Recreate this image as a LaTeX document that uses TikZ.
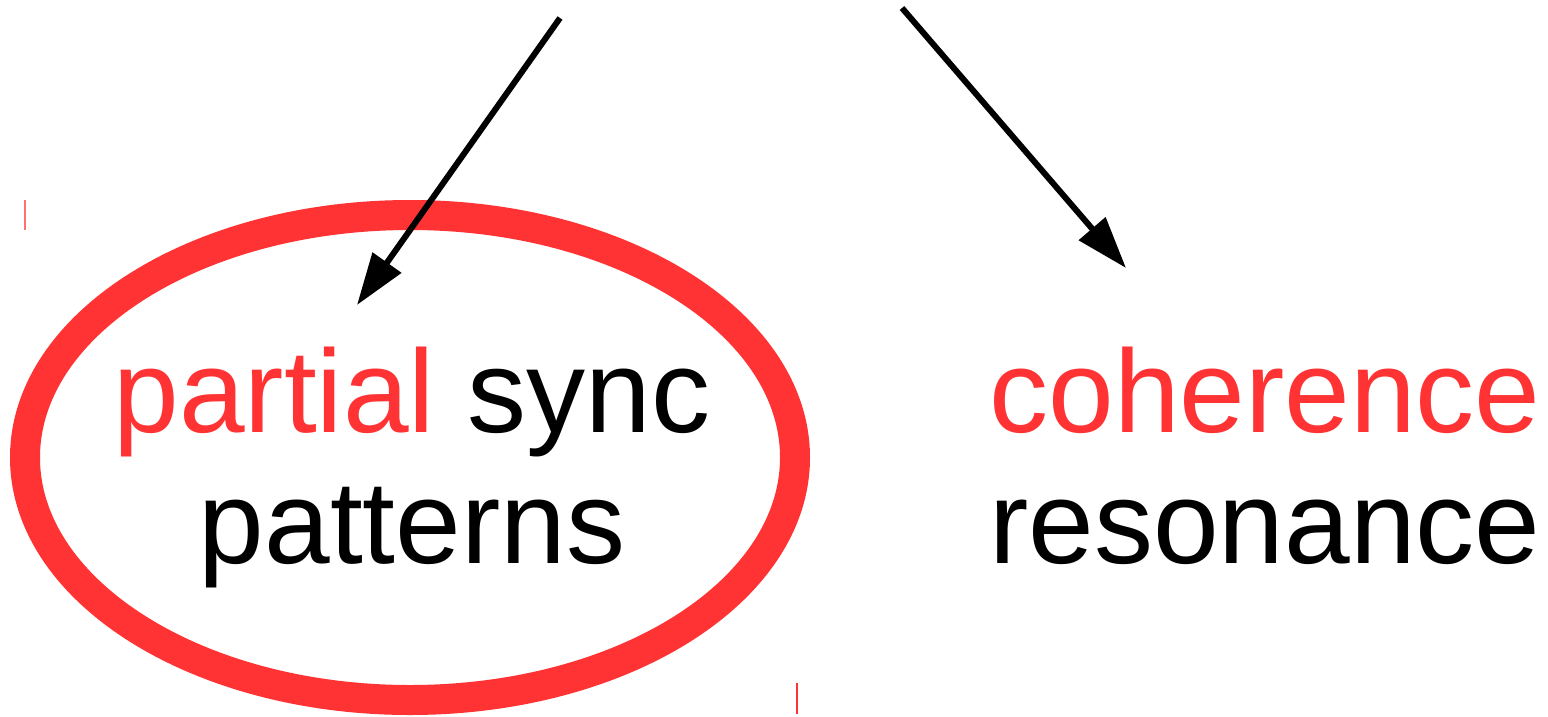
\documentclass[tikz,border=0pt]{standalone}
\usepackage{fontspec}
\setmainfont{Liberation Sans}
\usetikzlibrary{arrows.meta}
\definecolor{hotred}{RGB}{255,51,51}
\tikzset{
  label text/.style={font=\fontsize{118}{131}\selectfont, align=center, inner sep=0pt, anchor=base},
  pointer/.style={line width=6pt, -{Triangle[length=52pt, width=34pt]}},
  ring/.style={hotred, line width=30pt},
  tick/.style={hotred, line width=1.5pt}
}
\begin{document}
\begin{tikzpicture}[x=1pt, y=-1pt]
  \useasboundingbox (0,0) rectangle (1548,716);
  % highlight ring around the left label
  \draw[ring] (410,457.5) ellipse [x radius=385, y radius=242.5];
  % labels (base anchor sits on the last line)
  \node[label text] (sync) at (412,563) {\textcolor{hotred}{partial} sync\\patterns};
  \node[label text] (coh) at (1265,563) {\textcolor{hotred}{coherence}\\resonance};
  % arrow end points
  \coordinate (s1) at (560,18);
  \coordinate (e1) at (357,305);
  \coordinate (s2) at (902,8);
  \coordinate (e2) at (1126,268);
  \draw[pointer] (s1) -- (e1);
  \draw[pointer] (s2) -- (e2);
  % small marks
  \coordinate (m1a) at (25,200);
  \coordinate (m1b) at (25,230);
  \coordinate (m2a) at (797,683);
  \coordinate (m2b) at (797,714);
  \draw[tick, opacity=0.7] (m1a) -- (m1b);
  \draw[tick] (m2a) -- (m2b);
\end{tikzpicture}
\end{document}
